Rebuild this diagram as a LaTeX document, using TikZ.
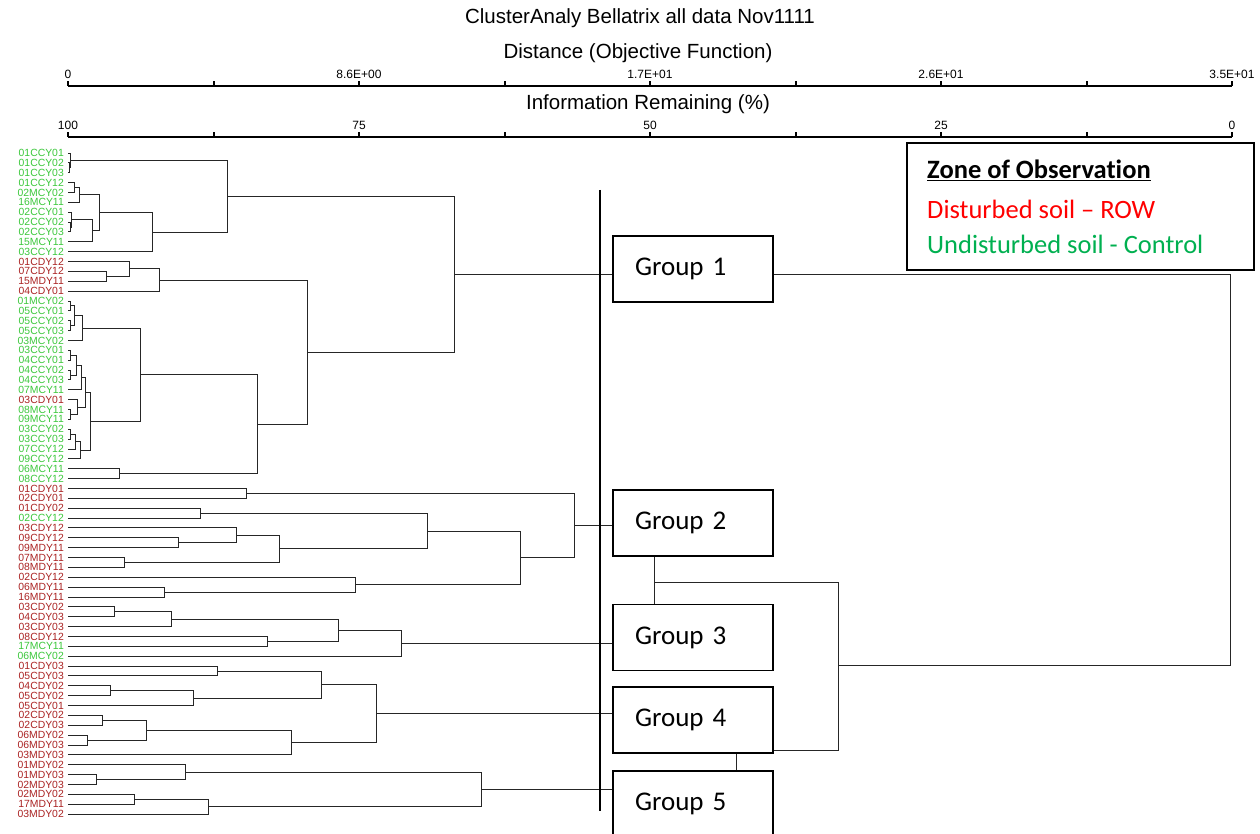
\documentclass[tikz,border=0pt]{standalone}
\usepackage{fontspec}
\setmainfont{Liberation Sans}
\newfontfamily\calibri[Ligatures={TeX,NoCommon}]{Carlito}
\usepackage{xcolor}
\usetikzlibrary{positioning, calc}

\definecolor{leafgreen}{RGB}{60,200,60}
\definecolor{leafred}{RGB}{170,35,35}
\definecolor{rowred}{RGB}{255,0,0}
\definecolor{ctrlgreen}{RGB}{0,176,80}

% join two clusters at a given distance
\newcommand{\merge}[4]{% #1 new cluster, #2 upper child, #3 lower child, #4 x of the join
  \coordinate (jx) at (#4,0);
  \draw[dendro] (#2) -- (#2 -| jx) -- (#3 -| jx) -- (#3);
  \coordinate (#1) at ($(#2 -| jx)!0.5!(#3 -| jx)$);
}

\begin{document}
\begin{tikzpicture}[x=1pt, y=-1pt,
  dendro/.style={draw=black!85, line width=0.9pt},
  leaf/.style={anchor=east, inner sep=0pt, font=\fontsize{10.4}{10}\selectfont},
  ticklab/.style={anchor=south, inner sep=0pt, font=\fontsize{12}{12}\selectfont},
  heading/.style={inner sep=0pt, font=\fontsize{20.5}{22}\selectfont},
  axisline/.style={line width=2pt},
  grpbox/.style={draw, fill=white, line width=1.8pt, minimum height=66pt, inner xsep=22pt,
    text width=116pt, align=left, font=\calibri\fontsize{27}{30}\selectfont},
  legtext/.style={anchor=west, inner sep=0pt, font=\calibri\fontsize{26.5}{30}\selectfont}]

\clip (0,0) rectangle (1260,834);
\fill[white] (0,0) rectangle (1260,834);

% Headings
\node[heading] (title) at (640,18) {ClusterAnaly Bellatrix all data Nov1111};
\node[heading] (disttitle) at (638,53) {Distance (Objective Function)};
\node[heading] (infotitle) at (648,104) {Information Remaining (\%)};

% Distance axis
\coordinate (da0) at (68,86);
\coordinate (da1) at (1232,86);
\draw[axisline] (da0) -- (da1);
\foreach \k in {0,...,8}
  \draw[axisline] ({68+\k*145.5},86) -- ++(0,-5);
\foreach \k/\v in {0/0, 2/8.6E+00, 4/1.7E+01, 6/2.6E+01, 8/3.5E+01}
  \node[ticklab] (dl\k) at ({68+\k*145.5},79) {\v};

% Information axis
\coordinate (ia0) at (68,137);
\coordinate (ia1) at (1232,137);
\draw[axisline] (ia0) -- (ia1);
\foreach \k in {0,...,8}
  \draw[axisline] ({68+\k*145.5},137) -- ++(0,-5);
\foreach \k/\v in {0/100, 2/75, 4/50, 6/25, 8/0}
  \node[ticklab] (il\k) at ({68+\k*145.5},130) {\v};

% Leaves
\foreach \lab/\col [count=\i] in {01CCY01/leafgreen, 01CCY02/leafgreen, 01CCY03/leafgreen,
  01CCY12/leafgreen, 02MCY02/leafgreen, 16MCY11/leafgreen, 02CCY01/leafgreen, 02CCY02/leafgreen,
  02CCY03/leafgreen, 15MCY11/leafgreen, 03CCY12/leafgreen, 01CDY12/leafred, 07CDY12/leafred,
  15MDY11/leafred, 04CDY01/leafred, 01MCY02/leafgreen, 05CCY01/leafgreen, 05CCY02/leafgreen,
  05CCY03/leafgreen, 03MCY02/leafgreen, 03CCY01/leafgreen, 04CCY01/leafgreen, 04CCY02/leafgreen,
  04CCY03/leafgreen, 07MCY11/leafgreen, 03CDY01/leafred, 08MCY11/leafgreen, 09MCY11/leafgreen,
  03CCY02/leafgreen, 03CCY03/leafgreen, 07CCY12/leafgreen, 09CCY12/leafgreen, 06MCY11/leafgreen,
  08CCY12/leafgreen, 01CDY01/leafred, 02CDY01/leafred, 01CDY02/leafred, 02CCY12/leafgreen,
  03CDY12/leafred, 09CDY12/leafred, 09MDY11/leafred, 07MDY11/leafred, 08MDY11/leafred,
  02CDY12/leafred, 06MDY11/leafred, 16MDY11/leafred, 03CDY02/leafred, 04CDY03/leafred,
  03CDY03/leafred, 08CDY12/leafred, 17MCY11/leafgreen, 06MCY02/leafgreen, 01CDY03/leafred,
  05CDY03/leafred, 04CDY02/leafred, 05CDY02/leafred, 05CDY01/leafred, 02CDY02/leafred,
  02CDY03/leafred, 06MDY02/leafred, 06MDY03/leafred, 03MDY03/leafred, 01MDY02/leafred,
  01MDY03/leafred, 02MDY03/leafred, 02MDY02/leafred, 17MDY11/leafred, 03MDY02/leafred} {
  \coordinate (l\i) at (68,{153+(\i-1)*9.866});
  \node[leaf, text=\col] (n\i) at (64,{153+(\i-1)*9.866}) {\lab};
}

% Group 1 branch
\merge{c1}{l2}{l3}{69}
\merge{c2}{l1}{c1}{70}
\merge{c3}{l4}{l5}{74}
\merge{c4}{c3}{l6}{79}
\merge{c5}{l8}{l9}{70}
\merge{c6}{l7}{c5}{71}
\merge{c7}{c6}{l10}{92}
\merge{c8}{c4}{c7}{99}
\merge{c9}{c8}{l11}{152}
\merge{c10}{c2}{c9}{227}
\merge{c11}{l13}{l14}{106}
\merge{c12}{l12}{c11}{129}
\merge{c13}{c12}{l15}{159}
\merge{c14}{l16}{l17}{70}
\merge{c15}{l18}{l19}{70}
\merge{c16}{c14}{c15}{74}
\merge{c17}{c16}{l20}{82}
\merge{c18}{l21}{l22}{70}
\merge{c19}{l23}{l24}{70}
\merge{c20}{c18}{c19}{76}
\merge{c21}{c20}{l25}{81}
\merge{c22}{l27}{l28}{70}
\merge{c23}{l26}{c22}{77}
\merge{c24}{c21}{c23}{85}
\merge{c25}{l29}{l30}{70}
\merge{c26}{c25}{l31}{75}
\merge{c27}{c26}{l32}{80}
\merge{c28}{c24}{c27}{90}
\merge{c29}{c17}{c28}{140}
\merge{c30}{l33}{l34}{119}
\merge{c31}{c29}{c30}{257}
\merge{c32}{c13}{c31}{307}
\merge{r1}{c10}{c32}{454}

% Group 2 branch
\merge{d1}{l35}{l36}{246}
\merge{d2}{l37}{l38}{200}
\merge{d3}{l40}{l41}{178}
\merge{d4}{l39}{d3}{236}
\merge{d5}{l42}{l43}{124}
\merge{d6}{d4}{d5}{279}
\merge{d7}{d2}{d6}{427}
\merge{d8}{l45}{l46}{164}
\merge{d9}{l44}{d8}{355}
\merge{d10}{d7}{d9}{520}
\merge{r2}{d1}{d10}{574}

% Group 3 branch
\merge{e1}{l47}{l48}{114}
\merge{e2}{e1}{l49}{171}
\merge{e3}{l50}{l51}{267}
\merge{e4}{e2}{e3}{338}
\merge{r3}{e4}{l52}{401}

% Group 4 branch
\merge{f1}{l53}{l54}{217}
\merge{f2}{l55}{l56}{110}
\merge{f3}{f2}{l57}{193}
\merge{f4}{f1}{f3}{321}
\merge{f5}{l58}{l59}{102}
\merge{f6}{l60}{l61}{87}
\merge{f7}{f5}{f6}{146}
\merge{f8}{f7}{l62}{291}
\merge{r4}{f4}{f8}{376}

% Group 5 branch
\merge{h1}{l64}{l65}{96}
\merge{h2}{l63}{h1}{185}
\merge{h3}{l66}{l67}{134}
\merge{h4}{h3}{l68}{208}
\merge{r5}{h2}{h4}{481}

% Group boxes
\node[grpbox] (g1) at (693,269) {Group 1};
\node[grpbox] (g2) at (693,523) {Group 2};
\node[grpbox] (g3) at (693,637.5) {Group 3};
\node[grpbox] (g4) at (693,720) {Group 4};
\node[grpbox] (g5) at (693,804) {Group 5};

% Branches into the boxes
\draw[dendro] (r1) -- (r1 -| g1.west);
\draw[dendro] (r2) -- (r2 -| g2.west);
\draw[dendro] (r3) -- (r3 -| g3.west);
\draw[dendro] (r4) -- (r4 -| g4.west);
\draw[dendro] (r5) -- (r5 -| g5.west);

% Cut line
\coordinate (cuttop) at (600,190);
\coordinate (cutbot) at (600,811);
\draw[line width=2.2pt] (cuttop) -- (cutbot);

% Links between the groups
\coordinate (root) at (1230,665);
\coordinate (k1) at (838,665);
\coordinate (k23) at (654,582);
\coordinate (k2) at (838,582);
\coordinate (k4) at (838,750);
\coordinate (k45) at (736,0);
\draw[dendro] (g1.east |- r1) -| (root) -- (k1);
\draw[dendro] (g2.south -| k23) -- (g3.north -| k23);
\draw[dendro] (k23) -- (k2) -- (k4) -- (g4.east |- k4);
\draw[dendro] (g4.south -| k45) -- (g5.north -| k45);

% Legend
\node[draw, line width=1.8pt, minimum width=347pt, minimum height=127pt, anchor=north west] (legend) at (906,142) {};
\node[legtext] (legtitle) at (927,170) {\underline{\textbf{Zone of Observation}}};
\node[legtext, text=rowred] (legrow) at (927,209) {Disturbed soil – ROW};
\node[legtext, text=ctrlgreen] (legctrl) at (927,244) {Undisturbed soil - Control};

\end{tikzpicture}
\end{document}
